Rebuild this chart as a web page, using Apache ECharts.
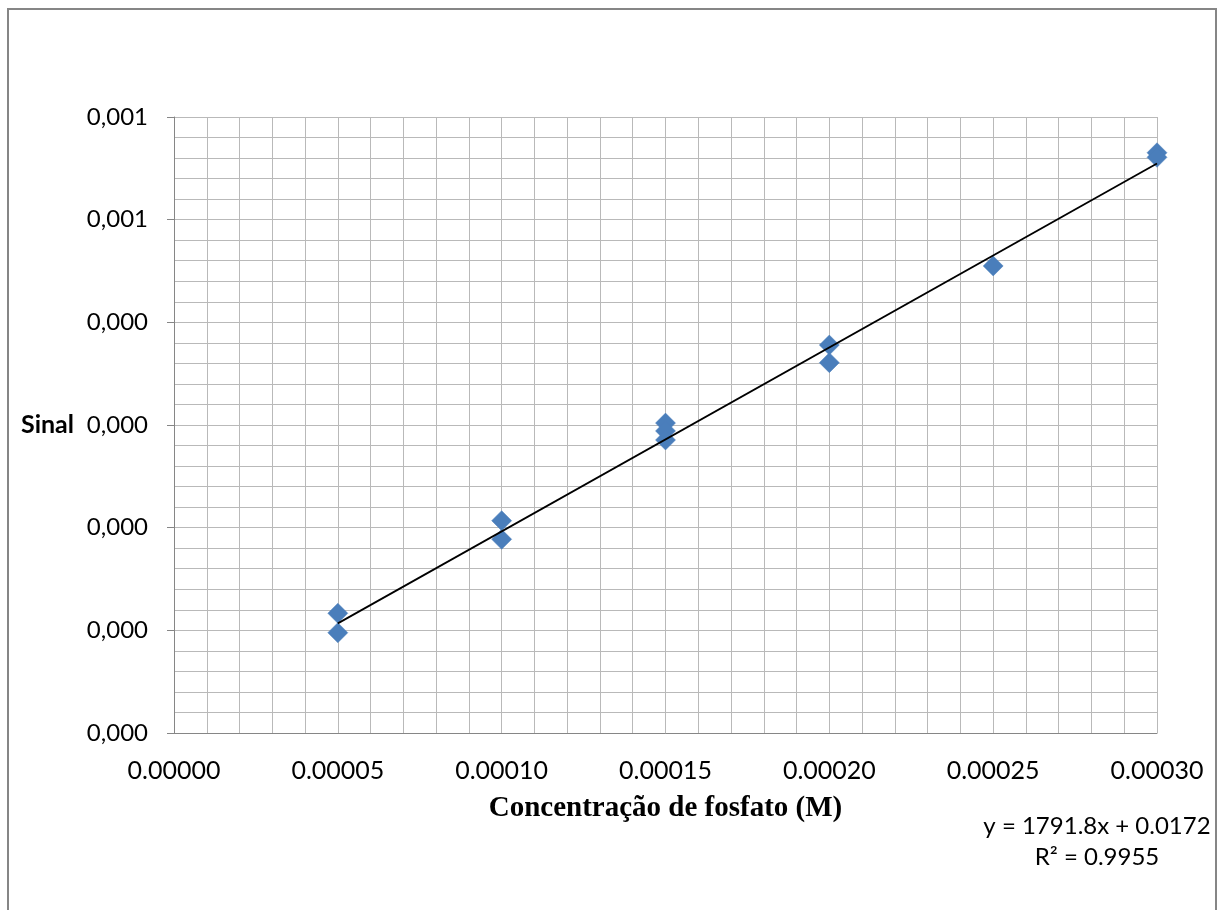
<!DOCTYPE html>
<html>
<head>
<meta charset="utf-8">
<script src="https://cdn.jsdelivr.net/npm/echarts@6/dist/echarts.min.js"></script>
<style>
  html, body { margin: 0; padding: 0; background: #ffffff; }
  #chart { width: 1218px; height: 910px; }
</style>
</head>
<body>
<div id="chart"></div>
<script>
// Phosphate concentration (M) for each measurement
const concentration = [
  0.00005, 0.00005,
  0.00010, 0.00010,
  0.00015, 0.00015, 0.00015,
  0.00020, 0.00020,
  0.00025,
  0.00030, 0.00030
];
// Measured signal
const signal = [
  0.0001166, 0.0000977,
  0.0002068, 0.0001887,
  0.0003019, 0.0002942, 0.0002854,
  0.0003779, 0.0003607,
  0.0004549,
  0.0005652, 0.0005607
];
// Linear fit as reported (signal expressed in units of 1e-3)
const fitSlope = 1791.8;
const fitIntercept = 0.0172;
const fitR2 = 0.9955;
const fitScale = 1e-3;
const fitRange = [0.00005, 0.00030];

const points = concentration.map((x, i) => [x, signal[i]]);
const fitLine = fitRange.map(x => [x, (fitSlope * x + fitIntercept) * fitScale]);

const gridColor = '#b9b9b9';
const axisColor = '#868686';
const labelFont = 'Lato, "Open Sans", sans-serif';

const chart = echarts.init(document.getElementById('chart'), null, { renderer: 'canvas' });

chart.setOption({
  backgroundColor: '#ffffff',
  animation: false,
  grid: { left: 174, top: 117, width: 983, height: 616, containLabel: false },
  xAxis: {
    type: 'value',
    min: 0,
    max: 0.0003,
    interval: 0.00005,
    name: 'Concentração de fosfato (M)',
    nameLocation: 'middle',
    nameGap: 76,
    nameTextStyle: {
      fontFamily: '"Liberation Serif", "Times New Roman", serif',
      fontWeight: 'bold',
      fontSize: 29,
      color: '#000000',
      verticalAlign: 'middle'
    },
    axisLine: { show: true, onZero: false, lineStyle: { color: axisColor, width: 1 } },
    axisTick: { show: false },
    axisLabel: {
      fontFamily: labelFont,
      fontSize: 25,
      color: '#000000',
      margin: 25,
      formatter: v => v.toFixed(5)
    },
    splitLine: { show: true, lineStyle: { color: gridColor, width: 1 } },
    minorTick: { show: false, splitNumber: 5 },
    minorSplitLine: { show: true, lineStyle: { color: gridColor, width: 1 } }
  },
  yAxis: {
    type: 'value',
    min: 0,
    max: 0.0006,
    interval: 0.0001,
    name: 'Sinal',
    nameLocation: 'middle',
    nameRotate: 0,
    nameGap: 100,
    nameTextStyle: {
      fontFamily: labelFont,
      fontWeight: 'bold',
      fontSize: 25,
      color: '#000000',
      align: 'right',
      verticalAlign: 'middle'
    },
    axisLine: { show: true, onZero: false, lineStyle: { color: axisColor, width: 1 } },
    axisTick: { show: true, length: 7, inside: false, lineStyle: { color: axisColor } },
    axisLabel: {
      fontFamily: labelFont,
      fontSize: 24,
      color: '#000000',
      margin: 26,
      formatter: v => (Math.round(v * 1000) / 1000).toFixed(3).replace('.', ',')
    },
    splitLine: { show: true, lineStyle: { color: gridColor, width: 1 } },
    minorTick: { show: false, splitNumber: 5 },
    minorSplitLine: { show: true, lineStyle: { color: gridColor, width: 1 } }
  },
  series: [
    {
      name: 'Sinal',
      type: 'scatter',
      data: points,
      symbol: 'diamond',
      symbolSize: 20,
      itemStyle: { color: '#4a7ebb', borderColor: '#4a7ebb', borderWidth: 0.5, opacity: 1 },
      z: 3
    },
    {
      name: 'Linear',
      type: 'line',
      data: fitLine,
      showSymbol: false,
      symbol: 'none',
      lineStyle: { color: '#000000', width: 1.8 },
      z: 4
    }
  ],
  graphic: [
    {
      type: 'rect',
      shape: { x: 8, y: 9, width: 1208, height: 930 },
      style: { fill: 'none', stroke: axisColor, lineWidth: 2 },
      silent: true,
      z: -1
    },
    {
      type: 'text',
      x: 1097,
      y: 842,
      style: {
        text: 'y = ' + fitSlope + 'x + ' + fitIntercept + '\nR² = ' + fitR2,
        fontFamily: labelFont,
        fontSize: 24,
        lineHeight: 31,
        fill: '#000000',
        align: 'center',
        verticalAlign: 'middle'
      }
    }
  ]
});
</script>
</body>
</html>
